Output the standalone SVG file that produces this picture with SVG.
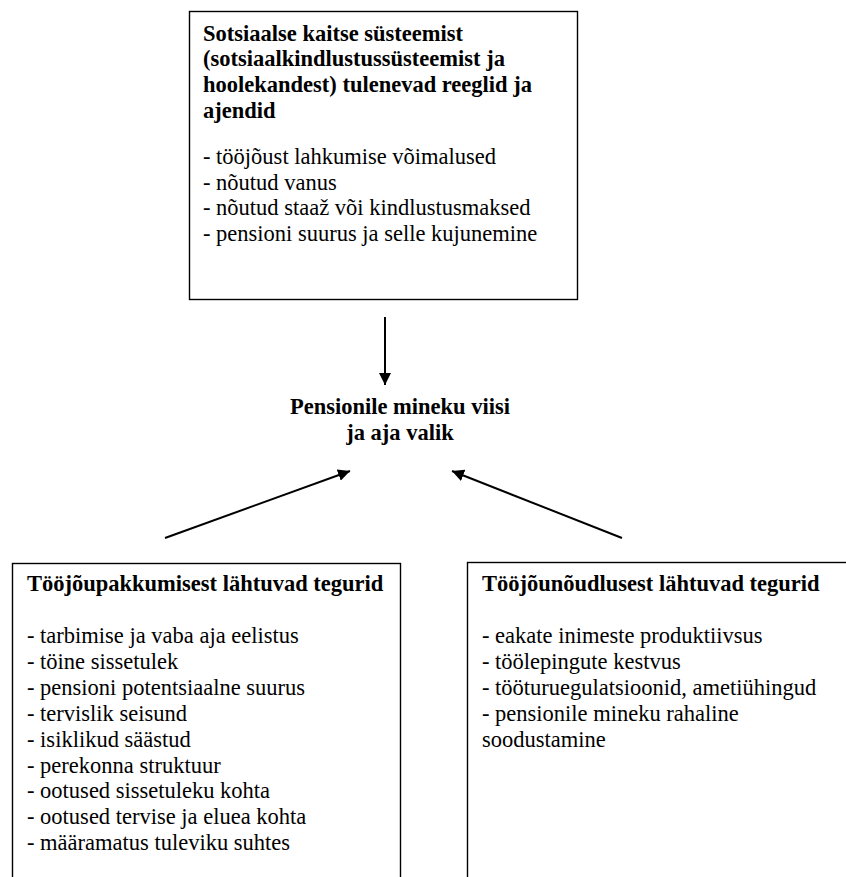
<svg xmlns="http://www.w3.org/2000/svg" width="846" height="877" viewBox="0 0 846 877">
<style>
.box{fill:#fff;stroke:#000;stroke-width:1.4}
.ln{stroke:#000;stroke-width:2;fill:none}
</style>
<defs>
<marker id="ah" viewBox="0 0 10 10" refX="10" refY="5" markerWidth="6" markerHeight="6" markerUnits="strokeWidth" orient="auto">
<path d="M0,0 L10,5 L0,10 z" fill="#000"/>
</marker>
</defs>
<rect width="846" height="877" fill="#fff"/>
<g id="top">
<rect class="box" x="189.5" y="11.5" width="388" height="288"/>
<text font-family="Liberation Serif" font-size="22.5" font-weight="bold" x="203" y="40.5">Sotsiaalse kaitse süsteemist</text>
<text font-family="Liberation Serif" font-size="22.5" font-weight="bold" x="203" y="66.4">(sotsiaalkindlustussüsteemist ja</text>
<text font-family="Liberation Serif" font-size="22.5" font-weight="bold" x="203" y="92.3">hoolekandest) tulenevad reeglid ja</text>
<text font-family="Liberation Serif" font-size="22.5" font-weight="bold" x="203" y="118.2">ajendid</text>
<text font-family="Liberation Serif" font-size="22.5" x="203" y="164">- tööjõust lahkumise võimalused</text>
<text font-family="Liberation Serif" font-size="22.5" x="203" y="189.5">- nõutud vanus</text>
<text font-family="Liberation Serif" font-size="22.5" x="203" y="215">- nõutud staaž või kindlustusmaksed</text>
<text font-family="Liberation Serif" font-size="22.5" x="203" y="240.5">- pensioni suurus ja selle kujunemine</text>
</g>
<g id="center">
<text font-family="Liberation Serif" font-size="22.5" font-weight="bold" text-anchor="middle" x="400" y="414">Pensionile mineku viisi</text>
<text font-family="Liberation Serif" font-size="22.5" font-weight="bold" text-anchor="middle" x="400" y="440">ja aja valik</text>
</g>
<g id="left">
<rect class="box" x="12.5" y="563.5" width="388" height="330"/>
<text font-family="Liberation Serif" font-size="22.5" font-weight="bold" x="27" y="591">Tööjõupakkumisest lähtuvad tegurid</text>
<text font-family="Liberation Serif" font-size="22.5" x="27" y="643">- tarbimise ja vaba aja eelistus</text>
<text font-family="Liberation Serif" font-size="22.5" x="27" y="668.9">- töine sissetulek</text>
<text font-family="Liberation Serif" font-size="22.5" x="27" y="694.8">- pensioni potentsiaalne suurus</text>
<text font-family="Liberation Serif" font-size="22.5" x="27" y="720.7">- tervislik seisund</text>
<text font-family="Liberation Serif" font-size="22.5" x="27" y="746.6">- isiklikud säästud</text>
<text font-family="Liberation Serif" font-size="22.5" x="27" y="772.5">- perekonna struktuur</text>
<text font-family="Liberation Serif" font-size="22.5" x="27" y="798.4">- ootused sissetuleku kohta</text>
<text font-family="Liberation Serif" font-size="22.5" x="27" y="824.3">- ootused tervise ja eluea kohta</text>
<text font-family="Liberation Serif" font-size="22.5" x="27" y="850.2">- määramatus tuleviku suhtes</text>
</g>
<g id="right">
<rect class="box" x="467.5" y="562.5" width="400" height="330"/>
<text font-family="Liberation Serif" font-size="22.5" font-weight="bold" x="482" y="591">Tööjõunõudlusest lähtuvad tegurid</text>
<text font-family="Liberation Serif" font-size="22.5" x="482" y="643">- eakate inimeste produktiivsus</text>
<text font-family="Liberation Serif" font-size="22.5" x="482" y="668.9">- töölepingute kestvus</text>
<text font-family="Liberation Serif" font-size="22.5" x="482" y="694.8">- tööturuegulatsioonid, ametiühingud</text>
<text font-family="Liberation Serif" font-size="22.5" x="482" y="720.7">- pensionile mineku rahaline</text>
<text font-family="Liberation Serif" font-size="22.5" x="482" y="746.6">soodustamine</text>
</g>
<g id="connectors">
<line class="ln" x1="385" y1="317" x2="385" y2="385" marker-end="url(#ah)"/>
<line class="ln" x1="165" y1="538" x2="350" y2="471" marker-end="url(#ah)"/>
<line class="ln" x1="622" y1="538" x2="452" y2="471" marker-end="url(#ah)"/>
</g>
</svg>
